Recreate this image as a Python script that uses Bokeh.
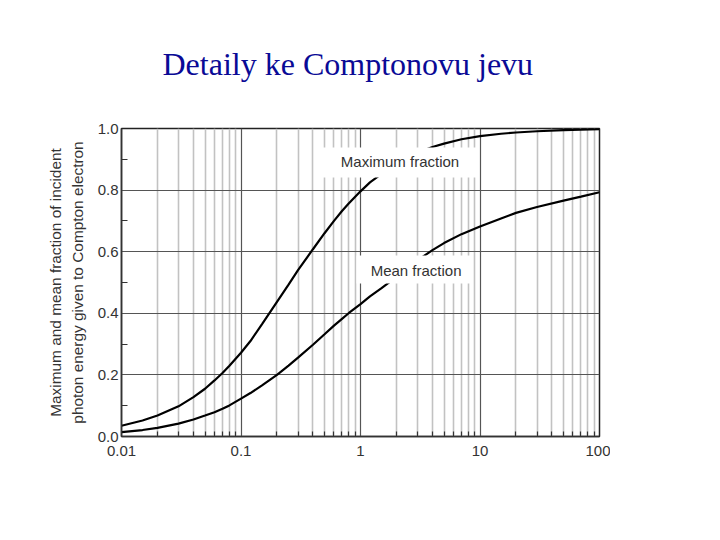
from bokeh.plotting import figure
from bokeh.models import FixedTicker
from bokeh.core.properties import value
from bokeh.embed import file_html
from bokeh.resources import INLINE

# ---- data ----
energy_mev = [0.01, 0.015, 0.02, 0.03, 0.04, 0.05, 0.06, 0.07, 0.08, 0.1,
              0.12, 0.15, 0.2, 0.25, 0.3, 0.4, 0.5, 0.6, 0.7, 0.8, 1.0, 1.2,
              1.5, 2.0, 3.0, 4.0, 5.0, 7.0, 10.0, 15.0, 20.0, 30.0, 50.0,
              70.0, 100.0]
max_fraction = [0.035, 0.052, 0.068, 0.098, 0.128, 0.155, 0.182, 0.206, 0.23,
                0.272, 0.31, 0.365, 0.437, 0.493, 0.54, 0.608, 0.66, 0.7,
                0.732, 0.757, 0.796, 0.825, 0.853, 0.887, 0.921, 0.94, 0.951,
                0.965, 0.975, 0.983, 0.987, 0.991, 0.995, 0.996, 0.998]
mean_fraction = [0.014, 0.021, 0.028, 0.042, 0.055, 0.068, 0.079, 0.09, 0.101,
                 0.123, 0.141, 0.166, 0.2, 0.23, 0.256, 0.298, 0.332, 0.36,
                 0.382, 0.401, 0.43, 0.455, 0.482, 0.518, 0.572, 0.605, 0.628,
                 0.657, 0.682, 0.708, 0.726, 0.745, 0.766, 0.779, 0.793]

x_ticks = [0.01, 0.1, 1, 10, 100]
x_tick_labels = ["0.01", "0.1", "1", "10", "100"]
y_ticks = [0.0, 0.2, 0.4, 0.6, 0.8, 1.0]
y_tick_labels = ["0.0", "0.2", "0.4", "0.6", "0.8", "1.0"]
y_minor_ticks = [0.1, 0.3, 0.5, 0.7, 0.9]

title_text = "Detaily ke Comptonovu jevu"
y_label_lines = ["Maximum and mean fraction of incident",
                 "photon energy given to Compton electron"]
curve_labels = ["Maximum fraction", "Mean fraction"]

# label boxes (annotation placement, data units)
box_left = [0.445, 0.926]
box_right = [9.35, 8.65]
box_top = [0.938, 0.588]
box_bottom = [0.841, 0.497]
label_x = [2.14, 2.92]
label_y = [0.893, 0.539]

FONT = "Liberation Sans"
TXT = "#333333"

p = figure(width=610, height=498, x_axis_type="log",
           x_range=(0.01, 100), y_range=(0.0, 1.0),
           output_backend="svg", toolbar_location=None,
           min_border_left=121, min_border_right=11,
           min_border_top=128, min_border_bottom=62)
p.background_fill_color = "white"
p.border_fill_color = "white"
p.outline_line_color = "#222222"
p.outline_line_width = 1.5

p.title.text = title_text
p.title.text_font = "Liberation Serif"
p.title.text_font_size = "32px"
p.title.text_font_style = "normal"
p.title.text_color = "#0a0a96"
p.title.align = "left"
p.title.offset = 41
p.title.vertical_align = "top"
p.title.standoff = 90

minor_x = [m * 10.0 ** e for e in range(-2, 2) for m in range(2, 10)]
xt = FixedTicker(ticks=x_ticks, minor_ticks=minor_x)
yt = FixedTicker(ticks=y_ticks, minor_ticks=y_minor_ticks)
p.xaxis.ticker = xt
p.xgrid.ticker = xt
p.yaxis.ticker = yt
p.ygrid.ticker = yt

p.xgrid.grid_line_color = "#555555"
p.xgrid.grid_line_width = 1.2
p.xgrid.minor_grid_line_color = "#c2c2c2"
p.xgrid.minor_grid_line_width = 1.6
p.ygrid.grid_line_color = "#555555"
p.ygrid.grid_line_width = 1.2

for ax in (p.xaxis[0], p.yaxis[0]):
    ax.axis_line_color = "#333333"
    ax.axis_line_width = 1.5
    ax.major_tick_in = 0
    ax.major_tick_out = 0
    ax.minor_tick_out = 0
    ax.minor_tick_line_color = "#333333"
    ax.minor_tick_line_width = 1.2
    ax.major_label_text_font = FONT
    ax.major_label_text_font_size = "15px"
    ax.major_label_text_color = TXT

p.xaxis.minor_tick_in = 5
p.yaxis.minor_tick_in = 6
p.xaxis.major_label_standoff = 9
p.yaxis.major_label_standoff = 3
p.xaxis.major_label_overrides = dict(zip(x_ticks, x_tick_labels))
p.yaxis.major_label_overrides = dict(zip(y_ticks, y_tick_labels))

p.yaxis.axis_label = "\n".join(y_label_lines)
p.yaxis.axis_label_text_font = FONT
p.yaxis.axis_label_text_font_size = "15.4px"
p.yaxis.axis_label_text_font_style = "normal"
p.yaxis.axis_label_text_color = TXT
p.yaxis.axis_label_text_line_height = 1.25
p.yaxis.axis_label_standoff = 9

p.line(energy_mev, max_fraction, line_color="black", line_width=2.2)
p.line(energy_mev, mean_fraction, line_color="black", line_width=2.2)

p.quad(left=box_left, right=box_right, top=box_top, bottom=box_bottom,
       fill_color="white", line_color=None)
p.text(x=label_x, y=label_y, text=curve_labels,
       text_font=value(FONT), text_font_size="15px", text_color=TXT,
       text_align="center", text_baseline="middle")

open("out.html", "w").write(file_html(p, INLINE))
